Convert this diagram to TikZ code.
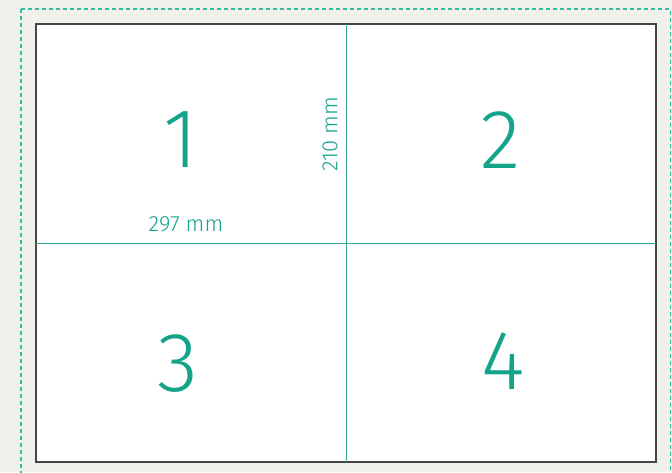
\documentclass[tikz,border=0pt]{standalone}
\usepackage{fontspec}
\setmainfont{Fira Sans}[UprightFont=* Light]
\usepackage{tikz}
\usetikzlibrary{positioning,calc}

\definecolor{paper}{HTML}{F1F1EC}
\definecolor{tealtxt}{HTML}{14A48A}
\definecolor{tealline}{HTML}{3AA596}
\definecolor{tealdash}{HTML}{2FBF9C}
\definecolor{frame}{HTML}{454545}

\begin{document}
\begin{tikzpicture}[x=1pt,y=-1pt,
    bignum/.style={text=tealtxt, font=\fontsize{84}{84}\selectfont, inner sep=0pt},
    dimlabel/.style={text=tealtxt, font=\fontsize{22}{22}\selectfont, inner sep=0pt}]
    % page background
    \fill[paper] (0,0) rectangle (672,472);
    \useasboundingbox (0,0) rectangle (672,472);
    % dashed outer trim line
    \draw[tealdash, line width=1.3pt, dash pattern=on 4pt off 3pt] (21,9) -- (670.5,9) -- (670.5,480);
    \draw[tealdash, line width=1.3pt, dash pattern=on 4pt off 3pt] (21,9) -- (21,480);
    % sheet
    \fill[white] (36,24) rectangle (656,462);
    \draw[frame, line width=1.6pt] (36,24) rectangle (656,462);
    % fold lines
    \coordinate (top) at (346,24);
    \coordinate (bot) at (346,462);
    \coordinate (lft) at (36,243);
    \coordinate (rgt) at (656,243);
    \draw[tealline, line width=0.9pt] (top) -- (bot);
    \draw[tealline, line width=0.9pt] (lft) -- (rgt);
    % panel numbers
    \node[bignum] (n1) at (181,140) {1};
    \node[bignum] (n2) at (501,140) {2};
    \node[bignum] (n3) at (178,364) {3};
    \node[bignum] (n4) at (503,361) {4};
    % sizes
    \node[dimlabel] (w) at (186,224) {297 mm};
    \node[dimlabel, rotate=90] (h) at (330,134) {210 mm};
\end{tikzpicture}
\end{document}
